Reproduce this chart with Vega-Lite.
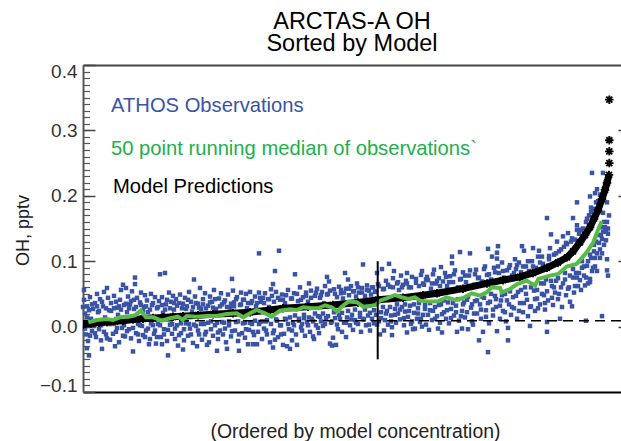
{"$schema":"https://vega.github.io/schema/vega-lite/v6.json","width":538,"height":327,"autosize":"none","padding":{"left":83,"top":65,"right":0,"bottom":49},"background":"white","config":{"font":"Liberation Sans","view":{"stroke":null}},
"title":{"text":["ARCTAS-A OH","Sorted by Model"],"fontSize":23.5,"fontWeight":"normal","lineHeight":22,"anchor":"middle","dx":0,"offset":7,"color":"black","font":"Liberation Sans"},
"datasets":{
"ref":[{"y":0.009}],
"marker":[{"x":294.7,"y":0.1,"y2":-0.05}],
"labels":[{"x":28,"y":0.337,"t":"ATHOS Observations","g":"b"},{"x":28,"y":0.2716,"t":"50 point running median of observations`","g":"g"},{"x":30,"y":0.2135,"t":"Model Predictions","g":"k"}],
"model":[{"x":0,"y":0.003},{"x":8,"y":0.005},{"x":16,"y":0.006},{"x":24,"y":0.007},{"x":32,"y":0.008},{"x":40,"y":0.009},{"x":50,"y":0.011},{"x":60,"y":0.012},{"x":70,"y":0.013},{"x":80,"y":0.014},{"x":90,"y":0.015},{"x":100,"y":0.016},{"x":115,"y":0.0175},{"x":130,"y":0.019},{"x":150,"y":0.0205},{"x":167,"y":0.022},{"x":185,"y":0.025},{"x":200,"y":0.028},{"x":225,"y":0.0305},{"x":250,"y":0.033},{"x":275,"y":0.037},{"x":295,"y":0.041},{"x":320,"y":0.044},{"x":340,"y":0.048},{"x":354,"y":0.051},{"x":380,"y":0.058},{"x":404,"y":0.066},{"x":420,"y":0.071},{"x":437,"y":0.076},{"x":450,"y":0.082},{"x":464,"y":0.09},{"x":475,"y":0.098},{"x":484,"y":0.106},{"x":490,"y":0.115},{"x":497,"y":0.129},{"x":502,"y":0.14},{"x":507,"y":0.152},{"x":511,"y":0.165},{"x":515,"y":0.178},{"x":519,"y":0.195},{"x":522,"y":0.209},{"x":524,"y":0.22},{"x":526,"y":0.232},{"x":526.3,"y":0.25},{"x":526.3,"y":0.268},{"x":526.3,"y":0.285},{"x":526.3,"y":0.347}],
"median":[{"x":5.3,"y":0.0066},{"x":13.7,"y":0.0101},{"x":23.7,"y":0.0116},{"x":30,"y":0.0101},{"x":37,"y":0.0142},{"x":45.3,"y":0.0151},{"x":52,"y":0.0173},{"x":57.7,"y":0.0244},{"x":63,"y":0.0142},{"x":70.3,"y":0.0142},{"x":78.7,"y":0.009},{"x":87,"y":0.0127},{"x":95,"y":0.0151},{"x":99.7,"y":0.0101},{"x":103.7,"y":0.0162},{"x":113.7,"y":0.0151},{"x":123.7,"y":0.0162},{"x":133.7,"y":0.0162},{"x":143.7,"y":0.0193},{"x":153.7,"y":0.0203},{"x":160.3,"y":0.0142},{"x":167,"y":0.0203},{"x":173.7,"y":0.0254},{"x":182,"y":0.0203},{"x":188.7,"y":0.0151},{"x":197,"y":0.0243},{"x":207,"y":0.0265},{"x":213.7,"y":0.0254},{"x":220.3,"y":0.0296},{"x":228.7,"y":0.028},{"x":235.3,"y":0.028},{"x":242,"y":0.0326},{"x":248.7,"y":0.0296},{"x":254.3,"y":0.0229},{"x":258.7,"y":0.0305},{"x":265.3,"y":0.0382},{"x":273.7,"y":0.0373},{"x":280.3,"y":0.0305},{"x":287,"y":0.0315},{"x":293,"y":0.0331},{"x":297,"y":0.0397},{"x":303.7,"y":0.0433},{"x":312,"y":0.0483},{"x":318.7,"y":0.0448},{"x":325.3,"y":0.0423},{"x":332,"y":0.0448},{"x":337,"y":0.0397},{"x":347,"y":0.0382},{"x":355.3,"y":0.0386},{"x":363.7,"y":0.0448},{"x":372,"y":0.0408},{"x":380.3,"y":0.0438},{"x":388.7,"y":0.0509},{"x":397,"y":0.0474},{"x":403.7,"y":0.0524},{"x":408.7,"y":0.0601},{"x":417,"y":0.0592},{"x":418.7,"y":0.0524},{"x":427,"y":0.0575},{"x":434.3,"y":0.0651},{"x":443.7,"y":0.0703},{"x":452,"y":0.0627},{"x":455.3,"y":0.0729},{"x":467,"y":0.078},{"x":475.3,"y":0.0806},{"x":483.7,"y":0.0918},{"x":493.7,"y":0.0959},{"x":503.7,"y":0.1136},{"x":510.3,"y":0.1289},{"x":515.3,"y":0.1492},{"x":518.7,"y":0.1609}],
"obs":[{"x":176,"y":0.112},{"x":196,"y":0.116},{"x":192,"y":0.085},{"x":212,"y":0.08},{"x":190,"y":0.065},{"x":226,"y":0.066},{"x":149,"y":0.073},{"x":111,"y":0.072},{"x":77,"y":0.08},{"x":82,"y":0.082},{"x":52,"y":0.075},{"x":52,"y":0.065},{"x":40,"y":0.064},{"x":24,"y":0.059},{"x":1,"y":0.056},{"x":85,"y":-0.044},{"x":6,"y":-0.044},{"x":50,"y":-0.038},{"x":4,"y":-0.033},{"x":19,"y":-0.034},{"x":32,"y":-0.03},{"x":66,"y":-0.027},{"x":79,"y":-0.027},{"x":100,"y":-0.035},{"x":114,"y":-0.03},{"x":124,"y":-0.028},{"x":134,"y":-0.037},{"x":144,"y":-0.034},{"x":156,"y":-0.037},{"x":165,"y":-0.027},{"x":170,"y":-0.027},{"x":174,"y":-0.027},{"x":190,"y":-0.032},{"x":207,"y":-0.034},{"x":214,"y":-0.028},{"x":200,"y":-0.028},
{"x":280,"y":0.095},{"x":294,"y":0.082},{"x":299,"y":0.088},{"x":306,"y":0.096},{"x":311,"y":0.085},{"x":324,"y":0.082},{"x":339,"y":0.085},{"x":344,"y":0.076},{"x":262,"y":0.082},{"x":244,"y":0.076},{"x":246,"y":0.069},{"x":265,"y":0.072},{"x":188,"y":0.057},
{"x":192,"y":-0.02},{"x":204,"y":-0.03},{"x":209,"y":-0.021},{"x":230,"y":-0.015},{"x":231,"y":-0.019},{"x":250,"y":-0.017},{"x":247,"y":-0.026},{"x":249,"y":-0.029},{"x":253,"y":-0.028},{"x":263,"y":-0.016},{"x":297,"y":-0.012},{"x":301,"y":-0.006},{"x":309,"y":-0.013},{"x":309,"y":-0.001},{"x":324,"y":-0.009},{"x":330,"y":-0.004},{"x":339,"y":0},{"x":209,"y":-0.006},{"x":219,"y":-0.006},
{"x":351,"y":0.087},{"x":358,"y":0.091},{"x":369,"y":0.107},{"x":377,"y":0.114},{"x":387,"y":0.112},{"x":369,"y":0.097},{"x":405,"y":0.119},{"x":415,"y":0.123},{"x":414,"y":0.113},{"x":409,"y":0.107},{"x":414,"y":0.104},{"x":432,"y":0.103},{"x":439,"y":0.123},{"x":441,"y":0.116},{"x":450,"y":0.12},{"x":456,"y":0.116},{"x":455,"y":0.107},{"x":459,"y":0.107},{"x":467,"y":0.12},{"x":474,"y":0.13},{"x":468,"y":0.141},{"x":464,"y":0.166},{"x":480,"y":0.138},{"x":485,"y":0.143},{"x":490,"y":0.166},{"x":494,"y":0.155},{"x":494,"y":0.148},{"x":494,"y":0.19},{"x":509,"y":0.235},{"x":520,"y":0.235},{"x":507,"y":0.199},{"x":512,"y":0.204},{"x":517,"y":0.202},{"x":514,"y":0.21},{"x":508,"y":0.175},{"x":520,"y":0.174},
{"x":524,"y":0.103},{"x":524,"y":0.086},{"x":525,"y":0.078},{"x":514,"y":0.085},{"x":507,"y":0.073},{"x":507,"y":0.068},{"x":502,"y":0.063},{"x":489,"y":0.031},{"x":477,"y":0.012},{"x":503,"y":0.009},{"x":519,"y":0.016},{"x":464,"y":0.007},{"x":464,"y":-0.008},{"x":447,"y":0.001},{"x":425,"y":-0.002},{"x":425,"y":-0.021},{"x":414,"y":-0.007},{"x":405,"y":-0.039},{"x":396,"y":-0.021},{"x":400,"y":-0.008},{"x":390,"y":0.003},{"x":385,"y":-0.004},{"x":379,"y":-0.003},{"x":374,"y":-0.008},{"x":359,"y":-0.009},{"x":355,"y":-0.003},{"x":346,"y":-0.005},{"x":332,"y":-0.003},
{"x":1,"y":0.041},{"x":2,"y":0.02},{"x":3,"y":-0.012},{"x":4,"y":0.031},{"x":5,"y":-0.022},{"x":7,"y":0.045},{"x":8,"y":0.012},{"x":9,"y":-0.007},{"x":10,"y":0.027},{"x":12,"y":0.036},{"x":13,"y":-0.016},{"x":14,"y":0.05},{"x":15,"y":0.022},{"x":16,"y":-0.004},{"x":17,"y":0.042},{"x":18,"y":-0.021},{"x":20,"y":0.031},{"x":21,"y":0.053},{"x":22,"y":0.014},{"x":23,"y":-0.012},{"x":25,"y":0.044},{"x":26,"y":0.025},{"x":27,"y":-0.02},{"x":28,"y":0.036},{"x":29,"y":0.004},{"x":31,"y":0.047},{"x":33,"y":-0.008},{"x":34,"y":0.029},{"x":35,"y":0.018},{"x":36,"y":-0.024},{"x":37,"y":0.041},{"x":38,"y":0.056},{"x":39,"y":-0.002},{"x":41,"y":0.033},{"x":42,"y":-0.015},{"x":43,"y":0.059},{"x":44,"y":0.022},{"x":45,"y":0.046},{"x":46,"y":-0.004},{"x":47,"y":0.034},{"x":48,"y":-0.018},{"x":49,"y":0.054},{"x":51,"y":0.027},{"x":53,"y":-0.01},{"x":54,"y":0.044},{"x":55,"y":0.004},{"x":56,"y":-0.022},{"x":57,"y":0.037},{"x":58,"y":0.052},{"x":59,"y":0.001},{"x":60,"y":-0.013},{"x":61,"y":0.03},{"x":62,"y":0.048},{"x":63,"y":-0.006},{"x":64,"y":0.04},{"x":65,"y":0.022},{"x":67,"y":-0.019},{"x":68,"y":0.05},{"x":69,"y":0.033},{"x":70,"y":0.002},{"x":71,"y":-0.011},{"x":72,"y":0.045},{"x":73,"y":-0.026},{"x":74,"y":0.028},{"x":75,"y":0.004},{"x":76,"y":0.039},{"x":78,"y":-0.016},{"x":79,"y":0.045},{"x":80,"y":0.021},{"x":81,"y":-0.004},{"x":83,"y":0.034},{"x":84,"y":-0.022},{"x":86,"y":0.052},{"x":87,"y":0.003},{"x":88,"y":0.038},{"x":89,"y":-0.011},{"x":90,"y":0.047},{"x":91,"y":0.026},{"x":92,"y":-0.019},{"x":93,"y":0.042},{"x":94,"y":0.002},{"x":95,"y":-0.029},{"x":96,"y":0.036},{"x":97,"y":0.049},{"x":98,"y":-0.01},{"x":99,"y":0.028},{"x":101,"y":-0.021},{"x":102,"y":0.044},{"x":103,"y":0.005},{"x":104,"y":0.031},{"x":105,"y":-0.014},{"x":106,"y":0.053},{"x":107,"y":-0.003},{"x":108,"y":0.038},{"x":109,"y":0.023},{"x":110,"y":-0.025},{"x":112,"y":0.046},{"x":113,"y":0.001},{"x":115,"y":0.035},{"x":116,"y":-0.012},{"x":117,"y":0.059},{"x":118,"y":0.027},{"x":119,"y":-0.02},{"x":120,"y":0.042},{"x":121,"y":0.004},{"x":122,"y":0.051},{"x":123,"y":-0.008},{"x":125,"y":0.032},{"x":126,"y":-0.024},{"x":127,"y":0.046},{"x":128,"y":0.008},{"x":129,"y":0.038},{"x":130,"y":-0.014},{"x":131,"y":0.056},{"x":132,"y":0.002},{"x":133,"y":0.027},{"x":135,"y":-0.019},{"x":136,"y":0.043},{"x":137,"y":-0.006},{"x":138,"y":0.051},{"x":139,"y":0.034},{"x":140,"y":-0.012},{"x":141,"y":0.006},{"x":142,"y":0.04},{"x":143,"y":-0.024},{"x":145,"y":0.049},{"x":146,"y":0.002},{"x":147,"y":0.029},{"x":148,"y":-0.015},{"x":150,"y":0.055},{"x":151,"y":0.037},{"x":152,"y":-0.006},{"x":153,"y":0.007},{"x":154,"y":0.045},{"x":155,"y":-0.022},{"x":157,"y":0.033},{"x":158,"y":0.052},{"x":159,"y":-0.01},{"x":160,"y":0.005},{"x":161,"y":0.041},{"x":162,"y":-0.017},{"x":163,"y":0.05},{"x":164,"y":0.028},{"x":166,"y":-0.005},{"x":167,"y":0.053},{"x":168,"y":0.036},{"x":169,"y":0.004},{"x":171,"y":-0.013},{"x":172,"y":0.046},{"x":173,"y":0.031},{"x":175,"y":-0.008},{"x":176,"y":0.052},{"x":177,"y":0.007},{"x":178,"y":0.038},{"x":179,"y":-0.019},{"x":180,"y":0.044},{"x":181,"y":-0.003},{"x":182,"y":0.051},{"x":183,"y":0.008},{"x":184,"y":-0.012},{"x":185,"y":0.042},{"x":186,"y":0.03},{"x":187,"y":-0.024},{"x":189,"y":0.047},{"x":191,"y":-0.006},{"x":193,"y":0.053},{"x":194,"y":0.009},{"x":195,"y":-0.016},{"x":197,"y":0.041},{"x":198,"y":0.002},{"x":199,"y":0.049},{"x":201,"y":-0.011},{"x":202,"y":0.036},{"x":203,"y":0.011},{"x":205,"y":0.056},{"x":206,"y":-0.004},{"x":208,"y":0.043},{"x":210,"y":0.006},{"x":211,"y":0.051},{"x":213,"y":-0.012},{"x":215,"y":0.039},{"x":216,"y":0.009},{"x":217,"y":0.06},{"x":218,"y":-0.001},{"x":220,"y":0.045},{"x":221,"y":0.013},{"x":222,"y":-0.014},{"x":223,"y":0.052},{"x":224,"y":0.007},{"x":225,"y":0.038},{"x":227,"y":-0.008},{"x":228,"y":0.055},{"x":229,"y":0.012},{"x":232,"y":0.047},{"x":233,"y":0.002},{"x":234,"y":0.058},{"x":235,"y":0.016},{"x":236,"y":-0.01},{"x":237,"y":0.044},{"x":238,"y":0.008},{"x":239,"y":0.053},{"x":240,"y":0.001},{"x":241,"y":0.036},{"x":242,"y":0.062},{"x":243,"y":0.013},{"x":245,"y":0.05},{"x":248,"y":0.006},{"x":251,"y":0.057},{"x":252,"y":0.013},{"x":254,"y":0.045},{"x":255,"y":-0.004},{"x":256,"y":0.061},{"x":257,"y":0.012},{"x":258,"y":0.051},{"x":259,"y":-0.008},{"x":260,"y":0.043},{"x":261,"y":0.006},{"x":263,"y":0.058},{"x":264,"y":0.014},{"x":266,"y":0.048},{"x":267,"y":0.002},{"x":268,"y":0.062},{"x":269,"y":0.018},{"x":270,"y":-0.005},{"x":271,"y":0.054},{"x":272,"y":0.01},{"x":273,"y":0.046},{"x":274,"y":0.066},{"x":275,"y":0.004},{"x":276,"y":0.052},{"x":277,"y":0.015},{"x":278,"y":-0.008},{"x":279,"y":0.059},{"x":281,"y":0.011},{"x":282,"y":0.047},{"x":283,"y":0.002},{"x":284,"y":0.063},{"x":285,"y":0.017},{"x":286,"y":0.055},{"x":287,"y":-0.006},{"x":288,"y":0.049},{"x":289,"y":0.012},{"x":290,"y":0.06},{"x":291,"y":0.005},{"x":292,"y":0.053},{"x":293,"y":0.018},{"x":295,"y":0.065},{"x":296,"y":0.008},{"x":298,"y":0.022},{"x":300,"y":0.057},{"x":302,"y":0.01},{"x":303,"y":0.07},{"x":304,"y":0.024},{"x":305,"y":0.003},{"x":307,"y":0.061},{"x":308,"y":0.017},{"x":310,"y":0.074},{"x":312,"y":0.027},{"x":313,"y":0.006},{"x":314,"y":0.066},{"x":315,"y":0.02},{"x":316,"y":0.056},{"x":317,"y":0.011},{"x":318,"y":0.078},{"x":319,"y":0.03},{"x":320,"y":0.064},{"x":321,"y":0.002},{"x":322,"y":0.023},{"x":323,"y":0.07},{"x":325,"y":0.015},{"x":326,"y":0.06},{"x":327,"y":0.032},{"x":328,"y":0.004},{"x":329,"y":0.076},{"x":331,"y":0.021},{"x":333,"y":0.067},{"x":334,"y":0.012},{"x":335,"y":0.028},{"x":336,"y":0.062},{"x":337,"y":0.007},{"x":338,"y":0.079},{"x":340,"y":0.018},{"x":341,"y":0.064},{"x":342,"y":0.033},{"x":343,"y":0.003},{"x":345,"y":0.071},{"x":347,"y":0.025},{"x":348,"y":0.058},{"x":349,"y":0.01},{"x":350,"y":0.08},{"x":352,"y":0.03},{"x":353,"y":0.066},{"x":354,"y":0.016},{"x":356,"y":0.074},{"x":357,"y":0.006},{"x":358,"y":0.034},{"x":360,"y":0.069},{"x":361,"y":0.022},{"x":362,"y":0.082},{"x":363,"y":0.012},{"x":364,"y":0.062},{"x":365,"y":0.037},{"x":366,"y":0.005},{"x":367,"y":0.077},{"x":368,"y":0.027},{"x":370,"y":0.068},{"x":371,"y":0.017},{"x":372,"y":0.086},{"x":373,"y":0.032},{"x":375,"y":0.06},{"x":376,"y":0.009},{"x":378,"y":0.073},{"x":379,"y":0.024},{"x":380,"y":0.083},{"x":381,"y":0.037},{"x":382,"y":0.014},{"x":383,"y":0.068},{"x":384,"y":0.041},{"x":386,"y":0.078},{"x":388,"y":0.029},{"x":389,"y":0.008},{"x":391,"y":0.064},{"x":392,"y":0.039},{"x":393,"y":0.087},{"x":394,"y":0.02},{"x":395,"y":0.074},{"x":397,"y":0.034},{"x":398,"y":0.012},{"x":399,"y":0.069},{"x":401,"y":0.044},{"x":402,"y":0.092},{"x":403,"y":0.025},{"x":404,"y":0.079},{"x":406,"y":0.005},{"x":407,"y":0.038},{"x":408,"y":0.072},{"x":410,"y":0.017},{"x":411,"y":0.09},{"x":412,"y":0.047},{"x":413,"y":0.03},{"x":416,"y":0.082},{"x":417,"y":0.012},{"x":418,"y":0.04},{"x":419,"y":0.098},{"x":420,"y":0.024},{"x":421,"y":0.075},{"x":422,"y":0.05},{"x":423,"y":0.008},{"x":424,"y":0.086},{"x":426,"y":0.034},{"x":427,"y":0.094},{"x":428,"y":0.018},{"x":429,"y":0.078},{"x":430,"y":0.045},{"x":431,"y":0.028},{"x":433,"y":0.088},{"x":434,"y":0.012},{"x":435,"y":0.053},{"x":436,"y":0.098},{"x":437,"y":0.036},{"x":438,"y":0.083},{"x":440,"y":0.022},{"x":442,"y":0.06},{"x":443,"y":0.092},{"x":444,"y":0.041},{"x":445,"y":0.016},{"x":446,"y":0.085},{"x":448,"y":0.031},{"x":449,"y":0.1},{"x":451,"y":0.055},{"x":452,"y":0.024},{"x":453,"y":0.09},{"x":454,"y":0.043},{"x":457,"y":0.034},{"x":458,"y":0.066},{"x":460,"y":0.096},{"x":461,"y":0.048},{"x":462,"y":0.026},{"x":463,"y":0.072},{"x":465,"y":0.04},{"x":466,"y":0.103},{"x":469,"y":0.062},{"x":470,"y":0.033},{"x":471,"y":0.11},{"x":472,"y":0.052},{"x":473,"y":0.07},{"x":475,"y":0.042},{"x":476,"y":0.115},{"x":478,"y":0.06},{"x":479,"y":0.03},{"x":481,"y":0.122},{"x":482,"y":0.072},{"x":483,"y":0.048},{"x":484,"y":0.126},{"x":486,"y":0.06},{"x":487,"y":0.038},{"x":488,"y":0.13},{"x":490,"y":0.075},{"x":491,"y":0.052},{"x":492,"y":0.133},{"x":493,"y":0.082},{"x":495,"y":0.062},{"x":496,"y":0.142},{"x":497,"y":0.071},{"x":498,"y":0.056},{"x":499,"y":0.09},{"x":500,"y":0.15},{"x":501,"y":0.078},{"x":503,"y":0.16},{"x":504,"y":0.093},{"x":505,"y":0.066},{"x":506,"y":0.17},{"x":508,"y":0.105},{"x":509,"y":0.085},{"x":510,"y":0.18},{"x":511,"y":0.115},{"x":512,"y":0.092},{"x":513,"y":0.13},{"x":515,"y":0.192},{"x":516,"y":0.14},{"x":517,"y":0.118},{"x":518,"y":0.152},{"x":519,"y":0.134},{"x":521,"y":0.16},{"x":522,"y":0.145},{"x":523,"y":0.148},{"x":524,"y":0.19},{"x":525,"y":0.142},{"x":526,"y":0.17},
{"x":0,"y":0.03},{"x":2,"y":-0.003},{"x":4,"y":0.014},{"x":6,"y":0.025},{"x":7,"y":-0.014},{"x":9,"y":0.034},{"x":11,"y":0.001},{"x":12,"y":-0.01},{"x":14,"y":0.031},{"x":16,"y":0.024},{"x":18,"y":0.002},{"x":19,"y":0.038},{"x":21,"y":-0.008},{"x":23,"y":0.028},{"x":24,"y":-0.018},{"x":26,"y":0.004},{"x":28,"y":0.024},{"x":30,"y":-0.011},{"x":31,"y":0.028},{"x":33,"y":0.038},{"x":34,"y":-0.002},{"x":36,"y":0.031},{"x":38,"y":0.026},{"x":40,"y":-0.014},{"x":41,"y":0.002},{"x":43,"y":0.035},{"x":44,"y":-0.007},{"x":46,"y":0.028},{"x":48,"y":0.039},{"x":50,"y":-0.002},{"x":51,"y":0.041},{"x":53,"y":0.03},{"x":55,"y":-0.012},{"x":57,"y":0.002},{"x":58,"y":0.033},{"x":60,"y":0.024},{"x":62,"y":-0.016},{"x":63,"y":0.031},{"x":65,"y":-0.003},{"x":67,"y":0.026},{"x":68,"y":0.005},{"x":70,"y":0.036},{"x":72,"y":-0.006},{"x":74,"y":-0.016},{"x":75,"y":0.03},{"x":77,"y":0.002},{"x":79,"y":0.033},{"x":81,"y":-0.012},{"x":82,"y":0.026},{"x":84,"y":0.041},{"x":85,"y":-0.005},{"x":87,"y":0.028},{"x":89,"y":0.004},{"x":91,"y":0.036},{"x":92,"y":-0.003},{"x":94,"y":0.032},{"x":96,"y":-0.013},{"x":98,"y":0.005},{"x":100,"y":0.035},{"x":101,"y":-0.004},{"x":103,"y":0.027},{"x":105,"y":0.041},{"x":106,"y":0.004},{"x":108,"y":-0.012},{"x":110,"y":0.03},{"x":111,"y":0.003},{"x":113,"y":0.036},{"x":115,"y":-0.006},{"x":116,"y":0.029},{"x":118,"y":0.004},{"x":120,"y":0.034},{"x":122,"y":-0.012},{"x":123,"y":0.028},{"x":125,"y":0.006},{"x":127,"y":0.037},{"x":128,"y":-0.004},{"x":130,"y":0.029},{"x":132,"y":0.042},{"x":134,"y":0.006},{"x":135,"y":-0.009},{"x":137,"y":0.031},{"x":139,"y":0.007},{"x":141,"y":0.037},{"x":142,"y":-0.003},{"x":144,"y":0.03},{"x":146,"y":0.008},{"x":148,"y":0.035},{"x":149,"y":-0.007},{"x":151,"y":0.031},{"x":153,"y":0.042},{"x":155,"y":0.008},{"x":156,"y":-0.012},{"x":158,"y":0.034},{"x":160,"y":0.041},{"x":162,"y":0.006},{"x":163,"y":-0.004},{"x":165,"y":0.036},{"x":167,"y":0.006},{"x":169,"y":0.039},{"x":170,"y":-0.008},{"x":172,"y":0.009},{"x":174,"y":0.036},{"x":176,"y":0.004},{"x":177,"y":0.044},{"x":179,"y":0.008},{"x":181,"y":0.036},{"x":183,"y":-0.006},{"x":184,"y":0.01},{"x":186,"y":0.042},{"x":188,"y":0.004},{"x":190,"y":-0.01},{"x":191,"y":0.038},{"x":193,"y":0.011},{"x":195,"y":0.044},{"x":197,"y":0.002},{"x":198,"y":-0.012},{"x":200,"y":0.041},{"x":202,"y":0.012},{"x":203,"y":0.048},{"x":205,"y":0.004},{"x":207,"y":0.014},{"x":209,"y":0.043},{"x":211,"y":0.002},{"x":212,"y":0.017},{"x":214,"y":0.05},{"x":216,"y":0.012},{"x":218,"y":0.041},{"x":219,"y":0.004},{"x":221,"y":0.018},{"x":223,"y":0.047},{"x":225,"y":0.002},{"x":226,"y":0.014},{"x":228,"y":0.044},{"x":230,"y":0.008},{"x":232,"y":0.02},{"x":233,"y":0.052},{"x":235,"y":-0.002},{"x":237,"y":0.015},{"x":238,"y":0.048},{"x":240,"y":0.02},{"x":242,"y":0.004},{"x":244,"y":0.049},{"x":245,"y":0.016},{"x":247,"y":0.055},{"x":249,"y":0.008},{"x":251,"y":0.022},{"x":252,"y":0.05},{"x":254,"y":0.003},{"x":256,"y":0.018},{"x":258,"y":0.056},{"x":259,"y":0.021},{"x":261,"y":0.052},{"x":263,"y":0.006},{"x":265,"y":0.024},{"x":266,"y":0.058},{"x":268,"y":0.011},{"x":270,"y":0.054},{"x":272,"y":0.026},{"x":273,"y":0.006},{"x":275,"y":0.06},{"x":277,"y":0.021},{"x":279,"y":0.052},{"x":280,"y":0.012},{"x":282,"y":0.026},{"x":284,"y":0.056},{"x":286,"y":0.003},{"x":287,"y":0.021},{"x":289,"y":0.06},{"x":291,"y":0.025},{"x":293,"y":0.054},{"x":294,"y":0.003},{"x":296,"y":0.062},{"x":298,"y":0.013},{"x":300,"y":0.03},{"x":301,"y":0.058},{"x":303,"y":0.02},{"x":305,"y":0.064},{"x":307,"y":0.03},{"x":308,"y":0.008},{"x":310,"y":0.06},{"x":312,"y":0.018},{"x":314,"y":0.034},{"x":315,"y":0.068},{"x":317,"y":0.026},{"x":319,"y":0.06},{"x":321,"y":0.013},{"x":322,"y":0.034},{"x":324,"y":0.066},{"x":326,"y":0.024},{"x":328,"y":0.06},{"x":329,"y":0.008},{"x":331,"y":0.034},{"x":333,"y":0.073},{"x":335,"y":0.02},{"x":336,"y":0.036},{"x":338,"y":0.012},{"x":340,"y":0.066},{"x":342,"y":0.027},{"x":343,"y":0.072},{"x":345,"y":0.018},{"x":347,"y":0.036},{"x":349,"y":0.066},{"x":350,"y":0.024},{"x":352,"y":0.012},{"x":354,"y":0.07},{"x":356,"y":0.033},{"x":357,"y":0.062},{"x":359,"y":0.019},{"x":361,"y":0.04},{"x":363,"y":0.076},{"x":364,"y":0.025},{"x":366,"y":0.068},{"x":368,"y":0.013},{"x":370,"y":0.036},{"x":371,"y":0.08},{"x":373,"y":0.022},{"x":375,"y":0.042},{"x":377,"y":0.072},{"x":378,"y":0.016},{"x":380,"y":0.034},{"x":382,"y":0.078},{"x":384,"y":0.022},{"x":385,"y":0.046},{"x":387,"y":0.086},{"x":389,"y":0.034},{"x":391,"y":0.02},{"x":392,"y":0.08},{"x":394,"y":0.04},{"x":396,"y":0.075},{"x":398,"y":0.026},{"x":399,"y":0.046},{"x":401,"y":0.088},{"x":403,"y":0.015},{"x":405,"y":0.036},{"x":406,"y":0.08},{"x":408,"y":0.05},{"x":410,"y":0.026},{"x":412,"y":0.083},{"x":413,"y":0.042},{"x":415,"y":0.092},{"x":417,"y":0.032},{"x":419,"y":0.048},{"x":420,"y":0.085},{"x":422,"y":0.022},{"x":424,"y":0.04},{"x":426,"y":0.09},{"x":427,"y":0.054},{"x":429,"y":0.03},{"x":431,"y":0.082},{"x":433,"y":0.047},{"x":434,"y":0.094},{"x":436,"y":0.024},{"x":438,"y":0.056},{"x":440,"y":0.092},{"x":441,"y":0.036},{"x":443,"y":0.05},{"x":445,"y":0.1},{"x":447,"y":0.03},{"x":448,"y":0.06},{"x":450,"y":0.092},{"x":452,"y":0.042},{"x":454,"y":0.056},{"x":455,"y":0.028},{"x":457,"y":0.098},{"x":459,"y":0.05},{"x":461,"y":0.066},{"x":462,"y":0.036},{"x":464,"y":0.054},{"x":466,"y":0.108},{"x":468,"y":0.07},{"x":469,"y":0.044},{"x":471,"y":0.06},{"x":473,"y":0.112},{"x":475,"y":0.074},{"x":476,"y":0.05},{"x":478,"y":0.118},{"x":480,"y":0.066},{"x":482,"y":0.082},{"x":483,"y":0.128},{"x":485,"y":0.058},{"x":487,"y":0.078},{"x":489,"y":0.135},{"x":490,"y":0.088},{"x":492,"y":0.062},{"x":494,"y":0.075},{"x":496,"y":0.082},{"x":498,"y":0.148},{"x":499,"y":0.1},{"x":501,"y":0.092},{"x":503,"y":0.075},{"x":504,"y":0.165},{"x":505,"y":0.1},{"x":507,"y":0.11},{"x":508,"y":0.182},{"x":510,"y":0.09},{"x":511,"y":0.125},{"x":512,"y":0.105},{"x":513,"y":0.19},{"x":514,"y":0.112},{"x":516,"y":0.128},{"x":517,"y":0.105},{"x":518,"y":0.14},{"x":519,"y":0.112},{"x":520,"y":0.145},{"x":521,"y":0.125},{"x":522,"y":0.152},{"x":523,"y":0.132},{"x":524,"y":0.16},{"x":525,"y":0.15}]
},
"layer":[
{"data":{"name":"obs"},"mark":{"type":"square","size":20,"color":"#3a53a4","opacity":1},"encoding":{"x":{"field":"x","type":"quantitative","scale":{"domain":[0,538],"nice":false,"zero":false},"axis":{"orient":"bottom","title":"(Ordered by model concentration)","titleFontSize":19.4,"titleFontWeight":"normal","titleColor":"#222","titleX":272,"titleY":39,"titleBaseline":"middle","labels":false,"ticks":false,"domainColor":"black","domainWidth":2,"grid":false}},"y":{"field":"y","type":"quantitative","scale":{"domain":[-0.1,0.4],"nice":false,"zero":false},"axis":{"orient":"left","title":null,"labels":false,"tickCount":50,"tickSize":-6.5,"tickColor":"#555","tickWidth":1.2,"domain":false,"grid":false}}}},
{"data":{"name":"ref"},"mark":{"type":"rule","color":"black","strokeWidth":1.5,"strokeDash":[10,6]},"encoding":{"y":{"field":"y","type":"quantitative","axis":{"orient":"left","title":"OH, pptv","titleFontSize":18,"titleFontWeight":"normal","titleColor":"#222","titleX":-51,"titleY":165,"labelFontSize":19,"labelColor":"#333","labelFlush":true,"labelFlushOffset":3,"labelPadding":18,"values":[-0.1,0,0.1,0.2,0.3,0.4],"tickSize":-12,"tickColor":"#444","tickWidth":1.5,"domainColor":"#555","domainWidth":2,"grid":false,"format":".1f"}}}},
{"data":{"name":"model"},"transform":[{"filter":"datum.y<0.24"}],"mark":{"type":"line","color":"black","strokeWidth":7,"clip":true},"encoding":{"x":{"field":"x","type":"quantitative","axis":{"orient":"top","title":null,"labels":false,"ticks":false,"domainColor":"#444","domainWidth":2,"grid":false}},"y":{"field":"y","type":"quantitative","axis":{"orient":"right","title":null,"labels":false,"values":[0,0.1,0.2,0.3],"tickSize":-3,"tickColor":"#444","tickWidth":1.5,"domain":false,"grid":false}}}},
{"data":{"name":"model"},"mark":{"type":"point","shape":"M-1,0L1,0M0,-1L0,1M-0.7,-0.7L0.7,0.7M-0.7,0.7L0.7,-0.7","size":72,"color":"black","strokeWidth":1.9,"filled":false,"opacity":1,"clip":true},"encoding":{"x":{"field":"x","type":"quantitative","axis":null},"y":{"field":"y","type":"quantitative","axis":null}}},
{"data":{"name":"median"},"mark":{"type":"line","color":"#5ab947","strokeWidth":4,"interpolate":"linear"},"encoding":{"x":{"field":"x","type":"quantitative","axis":null},"y":{"field":"y","type":"quantitative","axis":null}}},
{"data":{"name":"marker"},"mark":{"type":"rule","color":"black","strokeWidth":2},"encoding":{"x":{"field":"x","type":"quantitative","axis":null},"y":{"field":"y","type":"quantitative","axis":null},"y2":{"field":"y2"}}},
{"data":{"name":"labels"},"mark":{"type":"text","align":"left","baseline":"middle","fontSize":20.2},"encoding":{"x":{"field":"x","type":"quantitative","axis":null},"y":{"field":"y","type":"quantitative","axis":null},"text":{"field":"t"},"color":{"field":"g","type":"nominal","scale":{"domain":["b","g","k"],"range":["#3a53a4","#1db04b","#000000"]},"legend":null}}}
],
"resolve":{"axis":{"x":"independent","y":"independent"}}
}
